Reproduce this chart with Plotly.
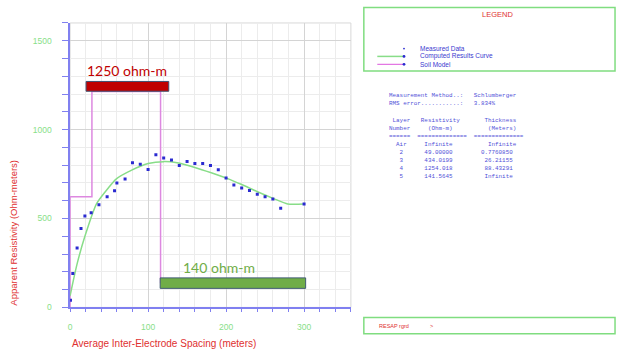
import plotly.graph_objects as go

# ---- data ----
meas_x = [0.5, 3.5, 9, 14, 19, 27, 37, 47.5, 57, 60, 70.5, 80, 90, 100, 110, 120, 130, 140,
          150, 160, 170, 180, 190, 200, 210, 220, 230, 240, 250, 260, 270, 300]
meas_y = [40, 190, 334, 444, 514, 532, 578, 622, 656, 700, 722, 814, 805, 776, 858, 840, 829, 798,
          821, 810, 810, 798, 774, 728, 689, 672, 657, 637, 622, 610, 558, 582]

curve_x = [0, 3.5, 9, 19, 34, 49, 59, 79, 100, 120, 139, 160, 181, 201, 220, 241, 261, 279, 300]
curve_y = [65, 138, 245, 400, 584, 672, 722, 772, 809, 820, 812, 787, 757, 726, 691, 649, 612, 582, 582]

soil_x = [0, 0, 28, 28, 116, 116, 300]
soil_y = [0, 622, 622, 1215, 1215, 140, 140]

# layer resistivity bars: (x0, x1, y0, y1), label
bar_hi = [20.5, 126.5, 1216, 1271]
bar_hi_label = "1250 ohm-m"
bar_lo = [115.5, 302, 107, 166]
bar_lo_label = "140 ohm-m"

info_lines = [
    "Measurement Method..:   Schlumberger",
    "RMS error...........:   3.834%",
    "",
    " Layer   Resistivity       Thickness",
    "Number     (Ohm-m)          (Meters)",
    "======  ==============  ==============",
    "  Air     Infinite          Infinite",
    "   2      49.00000        0.7760850",
    "   3      434.0199         26.21155",
    "   4      1254.018         88.43291",
    "   5      141.5645         Infinite",
]
legend_items = ["Measured Data", "Computed Results Curve", "Soil Model"]

W, H = 624, 361
def px(x): return x / W
def py(y): return 1 - y / H

AXIS_BLUE = "#8080f0"
fig = go.Figure()

fig.add_trace(go.Scatter(x=soil_x, y=soil_y, mode="lines",
                         line=dict(color="#dd88e0", width=1.5), hoverinfo="skip"))
fig.add_trace(go.Scatter(x=curve_x, y=curve_y, mode="lines",
                         line=dict(color="#88dd88", width=1.5, shape="spline", smoothing=0.6),
                         hoverinfo="skip"))
fig.add_trace(go.Scatter(x=meas_x, y=meas_y, mode="markers",
                         marker=dict(color="#2a2ad0", size=3, symbol="square"), hoverinfo="skip"))

shapes = []
# plot frame (right / top)
shapes.append(dict(type="rect", xref="paper", yref="paper", x0=px(68.3), x1=px(350),
                   y0=py(311.7), y1=py(23.3), line=dict(color="#d8d8d8", width=1), layer="below"))
# resistivity bars
shapes.append(dict(type="rect", xref="x", yref="y", x0=bar_hi[0], x1=bar_hi[1], y0=bar_hi[2], y1=bar_hi[3],
                   fillcolor="#c00000", line=dict(color="#3f5070", width=1)))
shapes.append(dict(type="rect", xref="x", yref="y", x0=bar_lo[0], x1=bar_lo[1], y0=bar_lo[2], y1=bar_lo[3],
                   fillcolor="#70ad47", line=dict(color="#3f5a70", width=1)))
# legend box
shapes.append(dict(type="rect", xref="paper", yref="paper", x0=px(363), x1=px(615), y0=py(72), y1=py(7.5),
                   line=dict(color="#80dd80", width=1.5)))
# bottom box
shapes.append(dict(type="rect", xref="paper", yref="paper", x0=px(363), x1=px(615), y0=py(338.5), y1=py(322),
                   line=dict(color="#80dd80", width=1.5)))
# legend symbols
leg_y = [49.3, 57.2, 65.2]
shapes.append(dict(type="line", xref="paper", yref="paper", x0=px(376.5), x1=px(403), y0=py(leg_y[1]), y1=py(leg_y[1]),
                   line=dict(color="#88dd88", width=1.5)))
shapes.append(dict(type="line", xref="paper", yref="paper", x0=px(376.5), x1=px(403), y0=py(leg_y[2]), y1=py(leg_y[2]),
                   line=dict(color="#dd55dd", width=1)))
for i, yy in enumerate(leg_y):
    r = 0.9 if i == 0 else 1.4
    shapes.append(dict(type="circle", xref="paper", yref="paper", x0=px(403.3 - r), x1=px(403.3 + r),
                       y0=py(yy + r), y1=py(yy - r), fillcolor="#2a2ad0", line=dict(width=0)))

ann = []
ann.append(dict(xref="x", yref="y", x=(bar_hi[0] + bar_hi[1]) / 2, y=bar_hi[3], yshift=11, text=bar_hi_label,
                showarrow=False, font=dict(family="Lato", size=14, color="#c00000"), yanchor="middle"))
ann.append(dict(xref="x", yref="y", x=(bar_lo[0] + bar_lo[1]) / 2 - 18, y=bar_lo[3], yshift=10, text=bar_lo_label,
                showarrow=False, font=dict(family="Lato", size=14, color="#70ad47"), yanchor="middle"))
# axis titles
ann.append(dict(xref="paper", yref="paper", x=px(12), y=py(236), text="Apparent Resistivity (Ohm-meters)",
                textangle=-90, showarrow=False, font=dict(family="Liberation Sans", size=9.5, color="#e03030"),
                xanchor="center", yanchor="middle"))
ann.append(dict(xref="paper", yref="paper", x=px(162.5), y=py(348), text="Average Inter-Electrode Spacing (meters)",
                showarrow=False, font=dict(family="Liberation Sans", size=10, color="#e03030"),
                xanchor="center", yanchor="middle"))
# legend texts
ann.append(dict(xref="paper", yref="paper", x=px(497), y=py(14.5), text="LEGEND", showarrow=False,
                font=dict(family="Liberation Sans", size=7.5, color="#e03030"), xanchor="center", yanchor="middle"))
for t, yy in zip(legend_items, leg_y):
    ann.append(dict(xref="paper", yref="paper", x=px(417.5), y=py(yy), text=t, showarrow=False,
                    font=dict(family="Liberation Sans", size=6.5, color="#3a3ad0"), xanchor="left", yanchor="middle"))
# info block
y0_info = 96.7
for i, line in enumerate(info_lines):
    if not line:
        continue
    yy = y0_info + i * 8.3 if i < 2 else 122 + (i - 3) * 8.2
    ann.append(dict(xref="paper", yref="paper", x=px(386), y=py(yy), text=line.replace(" ", "&nbsp;"),
                    showarrow=False, font=dict(family="Liberation Mono", size=5.9, color="#5050d8"),
                    xanchor="left", yanchor="middle"))
ann.append(dict(xref="paper", yref="paper", x=px(376.5), y=py(330.5), text="RESAP rgrd", showarrow=False,
                font=dict(family="Liberation Sans", size=5.5, color="#e03030"), xanchor="left", yanchor="middle"))
ann.append(dict(xref="paper", yref="paper", x=px(427.5), y=py(330.5), text=">", showarrow=False,
                font=dict(family="Liberation Sans", size=5.5, color="#e03030"), xanchor="left", yanchor="middle"))

fig.update_layout(
    width=W, height=H, margin=dict(l=0, r=0, t=0, b=0),
    paper_bgcolor="white", plot_bgcolor="white", showlegend=False,
    shapes=shapes, annotations=ann,
    xaxis=dict(domain=[px(68.3), px(350)], range=[0, 360], dtick=100, tick0=0,
               showgrid=True, gridcolor="#d4d4d4", gridwidth=1, zeroline=False,
               showline=True, linecolor=AXIS_BLUE, linewidth=1.5,
               ticks="outside", ticklen=3, tickcolor=AXIS_BLUE,
               tickfont=dict(family="Liberation Sans", size=8.5, color="#88e088"),
               ticklabelstandoff=8,
               minor=dict(dtick=20, showgrid=True, gridcolor="#ececec", ticks="outside", ticklen=3,
                          tickcolor=AXIS_BLUE)),
    yaxis=dict(domain=[py(311.7), py(23.3)], range=[0, 1600], dtick=500, tick0=0,
               showgrid=True, gridcolor="#d4d4d4", gridwidth=1, zeroline=False,
               showline=True, linecolor=AXIS_BLUE, linewidth=1.5,
               ticks="outside", ticklen=6, tickcolor=AXIS_BLUE,
               tickfont=dict(family="Liberation Sans", size=8.5, color="#88e088"),
               ticklabelstandoff=9,
               minor=dict(dtick=100, showgrid=True, gridcolor="#ececec", ticks="outside", ticklen=6,
                          tickcolor=AXIS_BLUE)),
)

fig.write_html("out.html")
